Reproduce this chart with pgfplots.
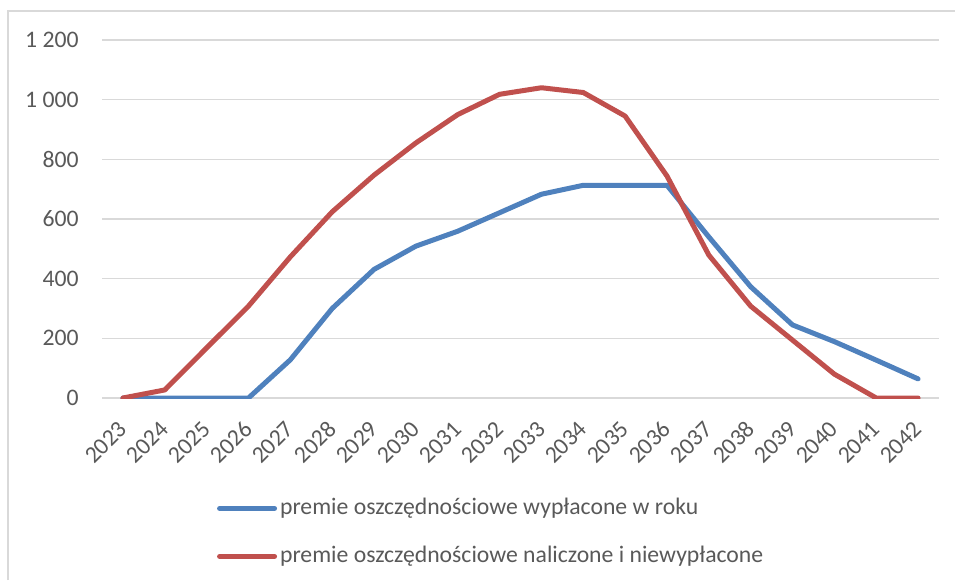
\documentclass[border=0pt]{standalone}
\usepackage{pgfplots}
\pgfplotsset{compat=1.18}
\usepackage{fontspec}
\setmainfont{Carlito}
\definecolor{cblue}{HTML}{4F81BD}
\definecolor{cred}{HTML}{C0504D}
\definecolor{cgrid}{HTML}{D9D9D9}
\definecolor{ctext}{HTML}{595959}
\begin{document}
\begin{tikzpicture}
\useasboundingbox (0,0) rectangle (477.5pt,290pt);
\draw[cgrid, line width=0.6pt] (4pt,0) -- (4pt,284.5pt) -- (477.5pt,284.5pt);
\begin{axis}[
  at={(51pt,91pt)}, anchor=south west,
  width=418.5pt, height=179pt, scale only axis,
  xmin=-0.5, xmax=19.5, ymin=0, ymax=1200,
  axis line style={draw=none},
  ymajorgrids, grid style={cgrid, line width=0.75pt},
  major tick length=0pt,
  /pgf/number format/assume math mode=true,
  xtick={0,...,19},
  xticklabels={2023,2024,2025,2026,2027,2028,2029,2030,2031,2032,2033,2034,2035,2036,2037,2038,2039,2040,2041,2042},
  ytick={0,200,400,600,800,1000,1200},
  yticklabels={0,200,400,600,800,{1 000},{1 200}},
  tick label style={font=\fontsize{11.85}{14}\selectfont, text=ctext},
  yticklabel style={anchor=east, inner sep=0pt, xshift=-11.5pt},
  xticklabel style={rotate=45, anchor=east, inner sep=0pt},
  xticklabel shift=13.5pt,
  legend style={at={(0.137,-0.2765)}, anchor=north west, draw=none, fill=none,
    inner sep=0pt, row sep=13pt, column sep=1.5pt,
    font=\fontsize{11.85}{14}\selectfont, text=ctext,
    nodes={inner sep=0pt, text height=8.5pt, text depth=2.5pt}},
  legend cell align=left,
  legend image code/.code={\draw[#1, line width=2.5pt, line cap=round] (0pt,0pt) -- (27.5pt,0pt);},
]
\addplot[cblue, line width=2.5pt, line cap=round, line join=round] coordinates {
 (0,0) (1,0) (2,0) (3,0) (4,128) (5,300) (6,431) (7,509) (8,559) (9,621)
 (10,683) (11,713) (12,713) (13,713) (14,540) (15,373) (16,245) (17,189) (18,127) (19,64)};
\addlegendentry{premie oszczędnościowe wypłacone w roku}
\addplot[cred, line width=2.5pt, line cap=round, line join=round] coordinates {
 (0,0) (1,27) (2,168) (3,308) (4,473) (5,624) (6,747) (7,855) (8,950) (9,1018)
 (10,1040) (11,1024) (12,945) (13,744) (14,479) (15,308) (16,194) (17,80) (18,0) (19,0)};
\addlegendentry{premie oszczędnościowe naliczone i niewypłacone}
\end{axis}
\end{tikzpicture}
\end{document}
